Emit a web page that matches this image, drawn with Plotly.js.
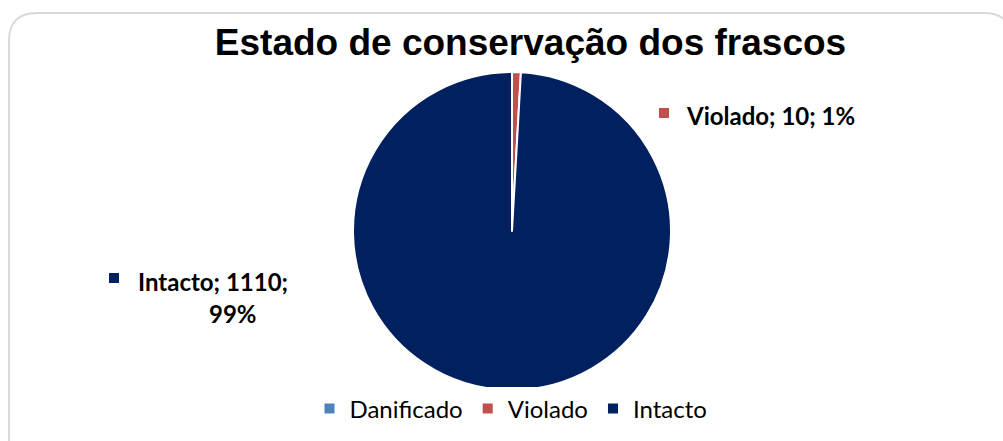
<!DOCTYPE html>
<html>
<head>
<meta charset="utf-8">
<script src="https://cdn.plot.ly/plotly-3.0.1.min.js"></script>
<style>
html,body{margin:0;padding:0;background:#fff;}
#chart{width:1003px;height:441px;}
</style>
</head>
<body>
<div id="chart"></div>
<script>
const categories = ["Danificado", "Violado", "Intacto"];
const counts = [0, 10, 1110];
const colors = ["#4F81BD", "#C0504D", "#002060"];
const titleText = "Estado de conservação dos frascos";

const total = counts.reduce((a, b) => a + b, 0);
const pct = counts.map(v => Math.round(v / total * 100));

const W = 1003, H = 441;
const px = x => x / W;
const py = y => 1 - y / H;

const trace = {
  type: "pie",
  labels: categories,
  values: counts,
  marker: { colors: colors, line: { color: "#ffffff", width: 2 } },
  sort: false,
  direction: "clockwise",
  rotation: 0,
  textinfo: "none",
  hoverinfo: "label+value+percent",
  domain: { x: [px(353), px(671)], y: [py(390), py(72)] },
  showlegend: true
};

const labelFont = { family: "Lato, 'Open Sans', sans-serif", size: 24, color: "#000" };

const annotations = [
  {
    xref: "paper", yref: "paper", x: px(684), y: py(116), xanchor: "left", yanchor: "middle",
    text: '<b>' + categories[1] + "; " + counts[1] + "; " + pct[1] + "%</b>",
    showarrow: false, font: labelFont
  },
  {
    xref: "paper", yref: "paper", x: px(136), y: py(281), xanchor: "left", yanchor: "middle",
    text: '<b>' + categories[2] + "; " + counts[2] + ";</b>",
    showarrow: false, font: labelFont
  },
  {
    xref: "paper", yref: "paper", x: px(233), y: py(313), xanchor: "center", yanchor: "middle",
    text: "<b>" + pct[2] + "%</b>",
    showarrow: false, font: labelFont
  }
];

// rounded frame (extends beyond the right and bottom edges)
const x0 = px(9), y0 = py(13), x1 = px(1012), y1 = py(455);
const rx = 28 / W, ry = 28 / H;
const framePath = `M ${x0} ${y1} L ${x0} ${y0 - ry} Q ${x0} ${y0} ${x0 + rx} ${y0} L ${x1 - rx} ${y0} Q ${x1} ${y0} ${x1} ${y0 - ry} L ${x1} ${y1} Z`;

function keyRect(xl, yt, color) {
  return {
    type: "rect", xref: "paper", yref: "paper",
    x0: px(xl), x1: px(xl + 10), y0: py(yt + 10), y1: py(yt),
    fillcolor: color, line: { width: 0 }
  };
}

const layout = {
  width: W, height: H,
  margin: { l: 0, r: 0, t: 0, b: 0 },
  paper_bgcolor: "#ffffff",
  plot_bgcolor: "#ffffff",
  title: {
    text: "<b>" + titleText + "</b>",
    font: { family: "'Liberation Sans', Arial, sans-serif", size: 37, color: "#000" },
    x: px(530.5), xanchor: "center",
    y: py(42), yanchor: "middle",
    xref: "paper", yref: "paper"
  },
  legend: {
    orientation: "h",
    x: px(511), xanchor: "center",
    y: py(409), yanchor: "middle",
    font: { family: "Lato, 'Open Sans', sans-serif", size: 24, color: "#000" },
    traceorder: "normal",
    itemwidth: 30
  },
  shapes: [
    {
      type: "path", xref: "paper", yref: "paper", path: framePath,
      line: { color: "#d9d9d9", width: 2 }, fillcolor: "rgba(0,0,0,0)", layer: "below"
    },
    keyRect(659, 108, colors[1]),
    keyRect(109, 273, colors[2])
  ],
  annotations: annotations
};

Plotly.newPlot("chart", [trace], layout, { displayModeBar: false, staticPlot: true });
</script>
</body>
</html>
